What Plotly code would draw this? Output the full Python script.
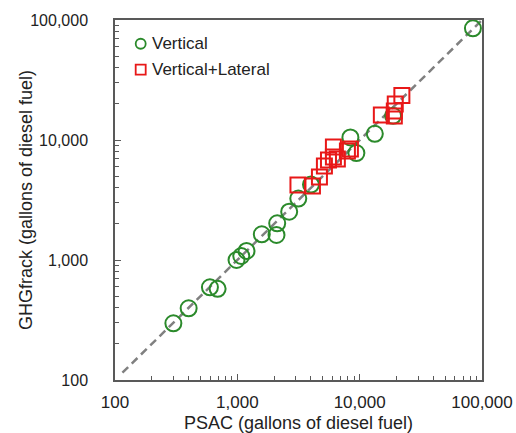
import plotly.graph_objects as go

# Vertical wells (PSAC vs GHGfrack, gallons of diesel fuel)
vert_psac = [300, 400, 597, 690, 985, 1077, 1189, 1585, 2090, 2118, 2654, 3150, 4000, 8400, 9400, 13300, 18750, 84300]
vert_ghg = [297, 396, 592, 575, 1000, 1080, 1189, 1637, 1616, 2022, 2527, 3250, 4250, 10500, 7790, 11270, 15910, 85300]

# Vertical+Lateral wells
lat_psac = [3130, 4111, 4690, 5150, 5560, 6100, 6100, 6570, 7940, 8400, 15040, 19200, 19200, 19540, 22130]
lat_ghg = [4217, 4138, 4920, 6070, 6810, 7220, 8750, 6950, 8090, 8410, 16150, 15850, 17450, 19950, 23480]

# 1:1 reference line
line_x = [115, 100000]
line_y = [115, 100000]

major_ticks = [100, 1000, 10000, 100000]
major_text = ["100", "1,000", "10,000", "100,000"]
minor_ticks = [m * d for d in [100, 1000, 10000] for m in range(2, 10)]

legend_names = ["Vertical", "Vertical+Lateral"]
x_title = "PSAC (gallons of diesel fuel)"
y_title = "GHGfrack (gallons of diesel fuel)"

green = "#2b8a2b"
red = "#e81818"
font = "Liberation Sans, Arial, sans-serif"
txt = "#222222"

fig = go.Figure()
fig.add_trace(go.Scatter(x=line_x, y=line_y, mode="lines",
                         line=dict(color="#808080", width=2.5, dash="8px,5px"),
                         showlegend=False, hoverinfo="skip"))
fig.add_trace(go.Scatter(x=vert_psac, y=vert_ghg, mode="markers", name=legend_names[0],
                         marker=dict(symbol="circle-open", size=16, color=green, line=dict(width=2, color=green)),
                         showlegend=False))
fig.add_trace(go.Scatter(x=lat_psac, y=lat_ghg, mode="markers", name=legend_names[1],
                         marker=dict(symbol="square-open", size=15, color=red, line=dict(width=2, color=red)),
                         showlegend=False))

# manual legend (symbols as pixel-sized shapes, labels as annotations)
leg_x = 0.070
leg_y = [0.934, 0.862]
fig.add_shape(type="circle", xref="paper", yref="paper", xsizemode="pixel", ysizemode="pixel",
              xanchor=leg_x, yanchor=leg_y[0], x0=-5, x1=5, y0=-5, y1=5,
              line=dict(color=green, width=1.8))
fig.add_shape(type="rect", xref="paper", yref="paper", xsizemode="pixel", ysizemode="pixel",
              xanchor=leg_x, yanchor=leg_y[1], x0=-5, x1=5, y0=-5, y1=5,
              line=dict(color=red, width=1.8))
for name, yy in zip(legend_names, leg_y):
    fig.add_annotation(x=0.101, y=yy, xref="paper", yref="paper", text=name, showarrow=False,
                       xanchor="left", yanchor="middle", xshift=-2,
                       font=dict(size=17, family=font, color=txt))

# y-axis title as rotated annotation for exact placement
fig.add_annotation(x=-0.2425, y=0.5, xref="paper", yref="paper", text=y_title, showarrow=False,
                   textangle=-90, xanchor="center", yanchor="middle",
                   font=dict(size=18, family=font, color=txt))

axis_common = dict(
    type="log", showgrid=False, zeroline=False, automargin=False,
    showline=True, linecolor="#595959", linewidth=1.5, mirror=True,
    ticks="inside", ticklen=6, tickwidth=1.2, tickcolor="#595959",
    tickmode="array", tickvals=major_ticks, ticktext=major_text,
    minor=dict(tickmode="array", tickvals=minor_ticks, ticks="inside", ticklen=4,
               tickwidth=1.2, tickcolor="#595959", showgrid=False),
)

fig.update_layout(
    width=516, height=433,
    margin=dict(l=115, r=34, t=20, b=53),
    paper_bgcolor="white", plot_bgcolor="white",
    font=dict(family=font, color=txt),
    showlegend=False,
    xaxis=dict(axis_common, range=[2, 5],
               tickfont=dict(size=17, family=font, color=txt), ticklabelstandoff=6,
               title=dict(text=x_title, font=dict(size=18, family=font, color=txt), standoff=12)),
    yaxis=dict(axis_common, range=[2, 5],
               tickfont=dict(size=16, family=font, color=txt), ticklabelstandoff=22),
)

fig.write_html("out.html", config={"displayModeBar": False},
               post_script="document.body.style.margin='0px';document.body.style.overflow='hidden';")
